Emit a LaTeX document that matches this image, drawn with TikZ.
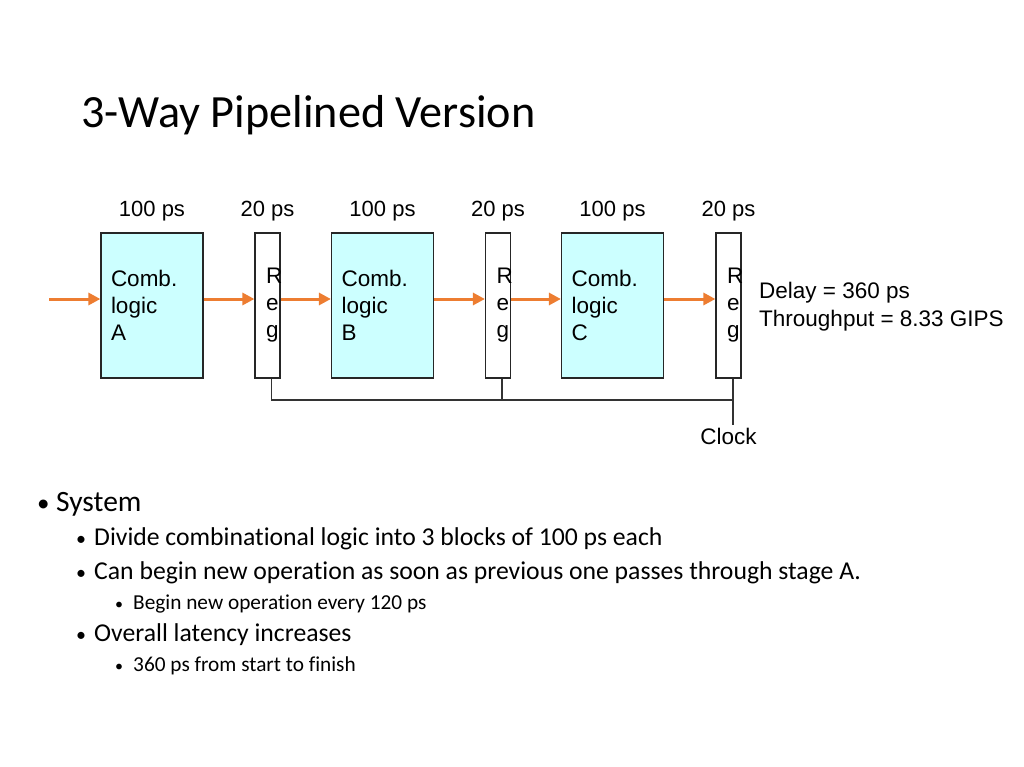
\documentclass[tikz,border=0pt]{standalone}
\usepackage{fontspec}
\setmainfont{Carlito}[Ligatures=NoCommon]
\newfontfamily\arialfont{Liberation Sans}
\usetikzlibrary{arrows.meta,positioning}

\definecolor{flowor}{RGB}{237,125,49}
\definecolor{combfill}{RGB}{204,255,255}

\begin{document}
\begin{tikzpicture}[x=1pt,y=-1pt,
  comb/.style={draw=black!85, line width=1.2pt, fill=combfill, minimum width=102pt,
    minimum height=145pt, text width=82pt, inner xsep=10pt, align=left,
    font=\arialfont\fontsize{22.5}{27}\selectfont},
  reg/.style={draw=black!85, line width=1.2pt, fill=white, minimum width=25pt,
    minimum height=145pt, text width=3pt, inner xsep=11pt, align=left,
    font=\arialfont\fontsize{22.5}{27}\selectfont},
  lbl/.style={font=\arialfont\fontsize{22}{25}\selectfont, inner sep=0pt},
  flow/.style={draw=flowor, line width=3pt, -{Triangle[length=12pt,width=12pt]}},
  wire/.style={draw=black!80, line width=1.2pt},
  lvlone/.style={anchor=base west, inner sep=0pt, font=\fontsize{29.5}{32}\selectfont},
  lvltwo/.style={anchor=base west, inner sep=0pt, font=\fontsize{25.7}{28}\selectfont},
  lvlthree/.style={anchor=base west, inner sep=0pt, font=\fontsize{21.3}{24}\selectfont},
  dot/.style={anchor=base west, inner sep=0pt, font=\fontsize{20}{24}\selectfont}]
\useasboundingbox (0,0) rectangle (1024,767);

% --- title ---
\node[anchor=base west, inner sep=0pt, font=\fontsize{46.2}{50}\selectfont] (title) at (81,128) {3-Way Pipelined Version};

% --- stages ---
\node[comb] (A) at (152,305.5) {Comb.\\logic\\A};
\node[reg] (r1) at (267.5,305.5) {R\\e\\g};
\node[comb] (B) at (382.5,305.5) {Comb.\\logic\\B};
\node[reg] (r2) at (498,305.5) {R\\e\\g};
\node[comb] (C) at (612.5,305.5) {Comb.\\logic\\C};
\node[reg] (r3) at (728.5,305.5) {R\\e\\g};

% --- delays above ---
\node[lbl, above=11pt of A] (dA) {100 ps};
\node[lbl, above=11pt of r1] (d1) {20 ps};
\node[lbl, above=11pt of B] (dB) {100 ps};
\node[lbl, above=11pt of r2] (d2) {20 ps};
\node[lbl, above=11pt of C] (dC) {100 ps};
\node[lbl, above=11pt of r3] (d3) {20 ps};

% --- data flow ---
\coordinate (in) at (49,299);
\draw[flow] (in) -- (in -| A.west);
\draw[flow] ([yshift=6.5pt]A.east) -- ([yshift=6.5pt]r1.west);
\draw[flow] ([yshift=6.5pt]r1.east) -- ([yshift=6.5pt]B.west);
\draw[flow] ([yshift=6.5pt]B.east) -- ([yshift=6.5pt]r2.west);
\draw[flow] ([yshift=6.5pt]r2.east) -- ([yshift=6.5pt]C.west);
\draw[flow] ([yshift=6.5pt]C.east) -- ([yshift=6.5pt]r3.west);

% --- result ---
\node[anchor=west, align=left, inner sep=0pt, font=\arialfont\fontsize{22.5}{28}\selectfont] (res) at (759,307)
  {Delay = 360 ps\\Throughput = 8.33 GIPS};

% --- clock ---
\node[lbl, anchor=north, font=\arialfont\fontsize{22.5}{25}\selectfont] (clock) at (728.5,428) {Clock};
\coordinate (bus) at (0,400);
\coordinate (t1) at ([xshift=4pt]r1.south);
\coordinate (t2) at ([xshift=4pt]r2.south);
\coordinate (t3) at ([xshift=4.5pt]r3.south);
\draw[wire] (t1) -- (t1 |- bus) -- (bus -| t3);
\draw[wire] (t2) -- (t2 |- bus);
\draw[wire] (t3) -- ([yshift=3pt]t3 |- clock.north);

% --- bullets ---
\node[dot, font=\fontsize{25}{28}\selectfont] (b1) at (37,511) {•};
\node[lvlone] (b1t) at (56,511) {System};
\node[dot] (b2) at (76,545) {•};
\node[lvltwo] (b2t) at (94,545) {Divide combinational logic into 3 blocks of 100 ps each};
\node[dot] (b3) at (76,579) {•};
\node[lvltwo] (b3t) at (94,579) {Can begin new operation as soon as previous one passes through stage A.};
\node[dot, font=\fontsize{16}{20}\selectfont] (b4) at (115,609) {•};
\node[lvlthree] (b4t) at (133,609) {Begin new operation every 120 ps};
\node[dot] (b5) at (76,641) {•};
\node[lvltwo] (b5t) at (94,641) {Overall latency increases};
\node[dot, font=\fontsize{16}{20}\selectfont] (b6) at (115,671) {•};
\node[lvlthree] (b6t) at (133,671) {360 ps from start to finish};
\end{tikzpicture}
\end{document}
